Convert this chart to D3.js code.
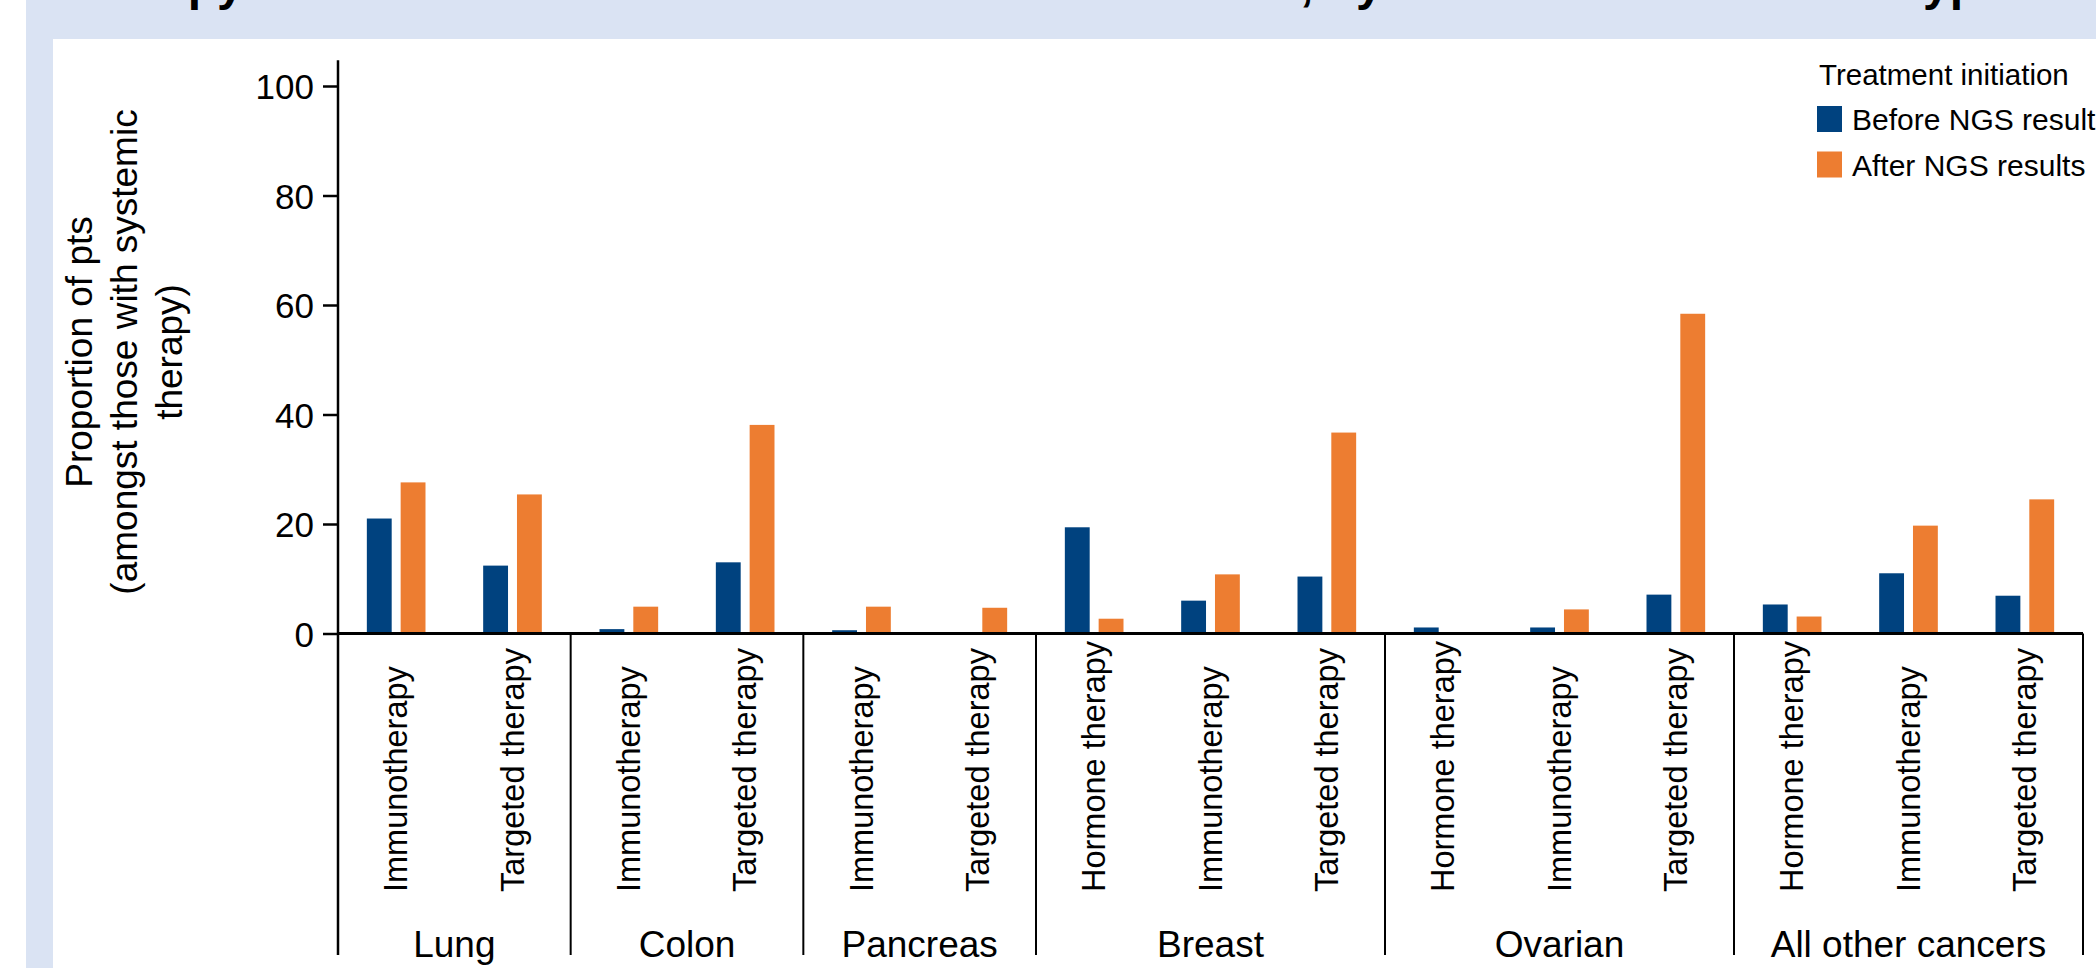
<!DOCTYPE html>
<html>
<head>
<meta charset="utf-8">
<script src="https://cdn.jsdelivr.net/npm/d3@7"></script>
<style>
  html, body { margin: 0; padding: 0; background: #ffffff; }
  svg { display: block; }
  text { font-family: "Liberation Sans", Arial, Helvetica, sans-serif; fill: #000; }
</style>
</head>
<body>
<script>
// ---------------- DATA ----------------
const cancers = ["Lung", "Lung", "Colon", "Colon", "Pancreas", "Pancreas",
  "Breast", "Breast", "Breast", "Ovarian", "Ovarian", "Ovarian",
  "All other cancers", "All other cancers", "All other cancers"];
const therapies = ["Immunotherapy", "Targeted therapy", "Immunotherapy", "Targeted therapy",
  "Immunotherapy", "Targeted therapy", "Hormone therapy", "Immunotherapy", "Targeted therapy",
  "Hormone therapy", "Immunotherapy", "Targeted therapy", "Hormone therapy", "Immunotherapy", "Targeted therapy"];
const beforeNGS = [21.0, 12.4, 0.8, 13.0, 0.6, 0, 19.4, 6.0, 10.4, 1.1, 1.1, 7.1, 5.3, 11.0, 6.9];
const afterNGS  = [27.6, 25.4, 4.9, 38.1, 4.9, 4.7, 2.7, 10.8, 36.7, 0, 4.4, 58.4, 3.1, 19.7, 24.5];
const cancerGroups = ["Lung", "Colon", "Pancreas", "Breast", "Ovarian", "All other cancers"];
const seriesNames = ["Before NGS results", "After NGS results"];
const seriesColors = ["#00427f", "#ed7d31"];
const yTicks = [0, 20, 40, 60, 80, 100];
const yTitleLines = ["Proportion of pts", "(amongst those with systemic", "therapy)"];
const legendTitle = "Treatment initiation";
const titleParts = ["Therapy initiation before and after NGS results", ", by treatment and cancer ", "type"];

// ---------------- LAYOUT ----------------
const W = 2096, H = 968;
const svg = d3.select("body").append("svg").attr("width", W).attr("height", H);

// backgrounds
svg.append("rect").attr("x", 0).attr("y", 0).attr("width", W).attr("height", H).attr("fill", "#ffffff");
svg.append("rect").attr("x", 26).attr("y", 0).attr("width", W - 26).attr("height", H).attr("fill", "#dae3f3");
svg.append("rect").attr("x", 53).attr("y", 39).attr("width", W - 53).attr("height", H - 39).attr("fill", "#ffffff");

// title (mostly cut off at top)
const tt = svg.append("text").attr("y", 0).style("font-weight", "bold").style("font-size", "48px");
const titleX = [57, 1300, 1907];
titleParts.forEach((t, i) => tt.append("tspan").attr("x", titleX[i]).text(t));

const keys = cancers.map((c, i) => c + "|" + therapies[i]);
const x = d3.scaleBand().domain(keys).range([338, 2083]).padding(0);
const x1 = d3.scaleBand().domain(seriesNames).range([0, x.bandwidth()]).paddingInner(0.265).paddingOuter(0.853);
const y = d3.scaleLinear().domain([0, 100]).range([633.5, 86]);
const yTop = y(104.7);
const yZero = y(0);
const sepBottom = 955;

// bars
const rows = keys.map((k, i) => ({ key: k, vals: [beforeNGS[i], afterNGS[i]] }));
const g = svg.append("g");
rows.forEach(r => {
  r.vals.forEach((v, s) => {
    if (v <= 0) return;
    g.append("rect")
      .attr("x", x(r.key) + x1(seriesNames[s]))
      .attr("y", y(v))
      .attr("width", x1.bandwidth())
      .attr("height", yZero - y(v))
      .attr("fill", seriesColors[s]);
  });
});

// y axis
const yAxis = d3.axisLeft(y).tickValues(yTicks).tickSize(15).tickPadding(9).tickFormat(d3.format("d"));
const ya = svg.append("g").attr("transform", "translate(338,0)").call(yAxis);
ya.select(".domain").remove();
ya.selectAll(".tick line").attr("stroke", "#000").attr("stroke-width", 2.5);
ya.selectAll(".tick text").style("font-size", "35px").attr("font-family", null).attr("dy", "0.36em");

// axis lines
svg.append("line").attr("x1", 338).attr("x2", 338).attr("y1", yTop).attr("y2", sepBottom)
  .attr("stroke", "#000").attr("stroke-width", 2.5);
svg.append("line").attr("x1", 338).attr("x2", 2083).attr("y1", yZero).attr("y2", yZero)
  .attr("stroke", "#000").attr("stroke-width", 3);

// group separators and labels
cancerGroups.forEach(c => {
  const ks = keys.filter(k => k.startsWith(c + "|"));
  const x0 = x(ks[0]);
  const xEnd = x(ks[ks.length - 1]) + x.bandwidth();
  svg.append("line").attr("x1", xEnd).attr("x2", xEnd).attr("y1", yZero).attr("y2", sepBottom)
    .attr("stroke", "#000").attr("stroke-width", 2);
  svg.append("text").attr("x", (x0 + xEnd) / 2).attr("y", 957)
    .attr("text-anchor", "middle").style("font-size", "37px").text(c);
});

// therapy labels (rotated)
keys.forEach((k, i) => {
  const cx = x(k) + x.bandwidth() / 2;
  svg.append("text")
    .attr("transform", `translate(${cx},892) rotate(-90)`)
    .attr("text-anchor", "start").attr("dy", "0.34em")
    .style("font-size", "32.5px").text(therapies[i]);
});

// y title
const yTitleX = [92, 137, 182];
yTitleLines.forEach((t, i) => {
  svg.append("text").attr("transform", `translate(${yTitleX[i]},352) rotate(-90)`)
    .attr("text-anchor", "middle").style("font-size", "37px").text(t);
});

// legend
const lg = svg.append("g");
lg.append("text").attr("x", 1819).attr("y", 85).style("font-size", "29.5px").text(legendTitle);
seriesNames.forEach((s, i) => {
  const yy = 106 + i * 45.5;
  lg.append("rect").attr("x", 1817).attr("y", yy).attr("width", 25).attr("height", 26).attr("fill", seriesColors[i]);
  lg.append("text").attr("x", 1852).attr("y", yy + 24).style("font-size", "30px").text(s);
});
</script>
</body>
</html>
